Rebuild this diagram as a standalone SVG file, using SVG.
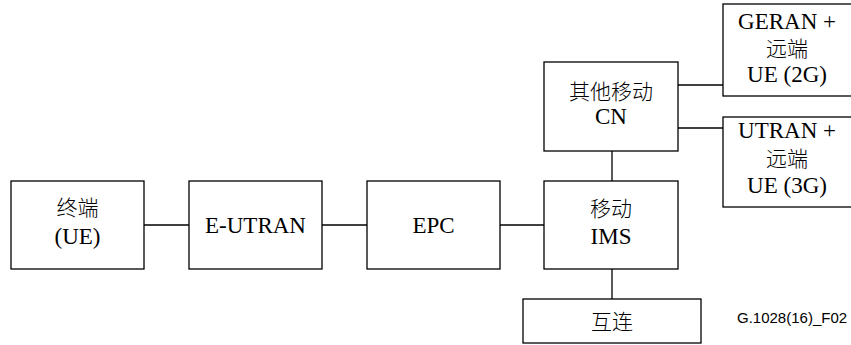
<svg xmlns="http://www.w3.org/2000/svg" width="851" height="345" viewBox="0 0 851 345">
<style>
.box{fill:#fff;stroke:#000;stroke-width:1.3}
.ln{stroke:#000;stroke-width:1.3;fill:none}
.t{font-family:"Liberation Serif","Noto Sans CJK SC",serif;font-size:23px;fill:#000;text-anchor:middle}
.c{font-family:"Noto Sans CJK SC","Liberation Serif",sans-serif;font-size:21px;font-weight:300;fill:#000;text-anchor:middle}
.lab{font-family:"Liberation Sans",Arial,sans-serif;font-size:15px;fill:#000}
</style>
<rect width="851" height="345" fill="#fff"/>
<g id="connectors">
<line class="ln" x1="144" y1="225" x2="189" y2="225"/>
<line class="ln" x1="322" y1="225" x2="367" y2="225"/>
<line class="ln" x1="500" y1="225" x2="544" y2="225"/>
<line class="ln" x1="612" y1="151" x2="612" y2="181"/>
<line class="ln" x1="612" y1="269" x2="612" y2="299"/>
<line class="ln" x1="678" y1="85" x2="723" y2="85"/>
<line class="ln" x1="678" y1="128" x2="723" y2="128"/>
</g>
<g id="ue">
<rect class="box" x="11" y="181" width="133" height="88"/>
<text class="c" x="77.5" y="215">终端</text>
<text class="t" x="77.5" y="244">(UE)</text>
</g>
<g id="eutran">
<rect class="box" x="189" y="181" width="133" height="88"/>
<text class="t" x="255.5" y="233">E-UTRAN</text>
</g>
<g id="epc">
<rect class="box" x="367" y="181" width="133" height="88"/>
<text class="t" x="433.5" y="233">EPC</text>
</g>
<g id="ims">
<rect class="box" x="544" y="181" width="134" height="88"/>
<text class="c" x="611" y="216">移动</text>
<text class="t" x="611" y="244">IMS</text>
</g>
<g id="cn">
<rect class="box" x="544" y="62" width="134" height="89"/>
<text class="c" x="611" y="99">其他移动</text>
<text class="t" x="611" y="124">CN</text>
</g>
<g id="geran">
<rect class="box" x="723" y="4" width="130" height="92"/>
<text class="t" x="787" y="29">GERAN +</text>
<text class="c" x="787" y="56">远端</text>
<text class="t" x="787" y="82">UE (2G)</text>
</g>
<g id="utran">
<rect class="box" x="723" y="117" width="130" height="90"/>
<text class="t" x="787" y="138">UTRAN +</text>
<text class="c" x="787" y="166">远端</text>
<text class="t" x="787" y="193">UE (3G)</text>
</g>
<g id="interconnect">
<rect class="box" x="523" y="299" width="178" height="44"/>
<text class="c" x="612" y="329">互连</text>
</g>
<text class="lab" x="737" y="323">G.1028(16)_F02</text>
</svg>
